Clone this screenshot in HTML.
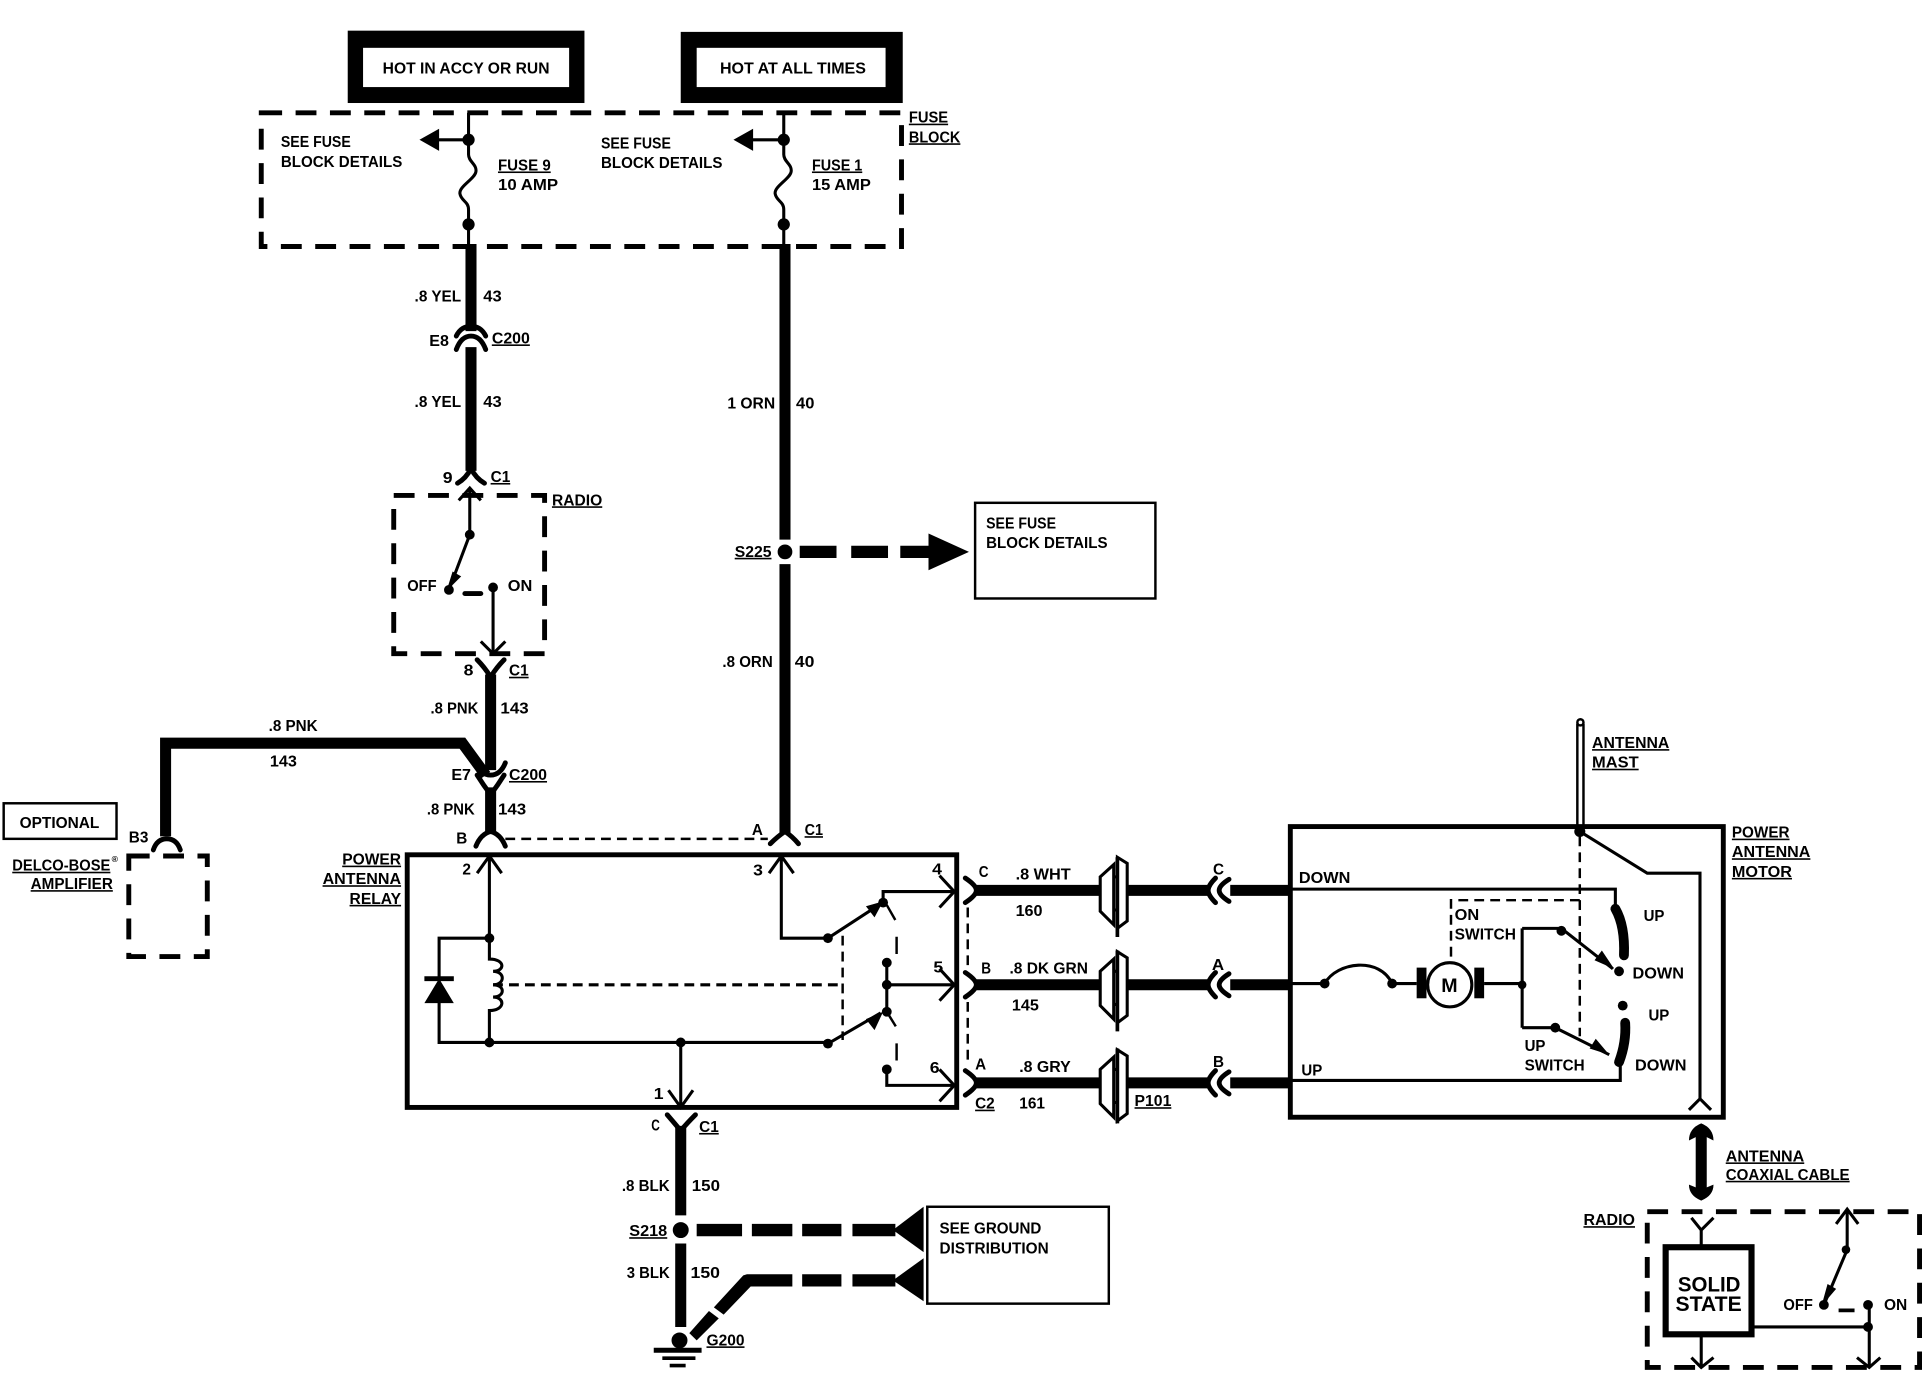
<!DOCTYPE html>
<html><head><meta charset="utf-8"><style>
html,body{margin:0;padding:0;background:#fff}
svg{display:block}
text{font-family:"Liberation Sans",sans-serif;font-weight:bold;font-size:13px;fill:#000;stroke:none}
.u{text-decoration:underline}
.w{fill:none;stroke:#000;stroke-width:2.5}
.t{fill:none;stroke:#000;stroke-width:9}
.n{fill:none;stroke:#000;stroke-width:4;stroke-linecap:round;stroke-linejoin:round}
.d{fill:none;stroke:#000;stroke-width:4;stroke-dasharray:17 11}
.f{fill:none;stroke:#000;stroke-width:2;stroke-dasharray:8 5}
circle{fill:#000}
</style></head><body>
<svg width="1922" height="1376" viewBox="0 0 1567 1122" preserveAspectRatio="none" xmlns="http://www.w3.org/2000/svg">
<rect width="1567" height="1122" fill="#fff"/>
<!-- top boxes -->
<rect x="283.500" y="25" width="193" height="59" fill="#000"/><rect x="296" y="39" width="168" height="32" fill="#fff"/>
<rect x="555" y="26" width="181" height="58" fill="#000"/><rect x="568" y="39" width="154" height="32" fill="#fff"/>
<text x="312" y="60" textLength="136" lengthAdjust="spacingAndGlyphs">HOT IN ACCY OR RUN</text>
<text x="587" y="60" textLength="119" lengthAdjust="spacingAndGlyphs">HOT AT ALL TIMES</text>
<!-- fuse block -->
<rect x="213" y="92" width="522" height="109" class="d"/>
<path class="w" d="M382 92V126C382 132 389 134 388 140C387 146 374 152 375 158C376 164 382 164 382 171V199"/>
<path class="w" d="M639 92V126C639 132 646 134 645 140C644 146 631 152 632 158C633 164 639 164 639 171V199"/>
<circle cx="382" cy="114" r="5"/><circle cx="382" cy="183" r="5"/>
<circle cx="639" cy="114" r="5"/><circle cx="639" cy="183" r="5"/>
<path class="w" d="M382 114H355M639 114H612"/>
<path d="M342 114L358 105V123Z M598 114L614 105V123Z"/>
<text x="229" y="120" textLength="57" lengthAdjust="spacingAndGlyphs">SEE FUSE</text>
<text x="229" y="136" textLength="99" lengthAdjust="spacingAndGlyphs">BLOCK DETAILS</text>
<text x="406" y="139" textLength="43" lengthAdjust="spacingAndGlyphs" class="u">FUSE 9</text>
<text x="406" y="155" textLength="49" lengthAdjust="spacingAndGlyphs">10 AMP</text>
<text x="490" y="121" textLength="57" lengthAdjust="spacingAndGlyphs">SEE FUSE</text>
<text x="490" y="137" textLength="99" lengthAdjust="spacingAndGlyphs">BLOCK DETAILS</text>
<text x="662" y="139" textLength="41" lengthAdjust="spacingAndGlyphs" class="u">FUSE 1</text>
<text x="662" y="155" textLength="48" lengthAdjust="spacingAndGlyphs">15 AMP</text>
<text x="741" y="100" textLength="32" lengthAdjust="spacingAndGlyphs" class="u">FUSE</text>
<text x="741" y="116" textLength="42" lengthAdjust="spacingAndGlyphs" class="u">BLOCK</text>
<!-- left top wire -->
<path class="t" d="M384 199V270M384 283V384"/>
<path class="n" d="M372 274Q376 266 384 266Q392 266 396 274M372 285Q376 274 384 274Q392 274 396 285"/>
<path class="n" d="M373 394Q380 390 384 382Q388 390 395 394"/>
<text x="338" y="246" textLength="38" lengthAdjust="spacingAndGlyphs">.8 YEL</text><text x="394" y="246" textLength="15" lengthAdjust="spacingAndGlyphs">43</text>
<text x="350" y="282" textLength="16" lengthAdjust="spacingAndGlyphs">E8</text><text x="401" y="280" textLength="31" lengthAdjust="spacingAndGlyphs" class="u">C200</text>
<text x="338" y="332" textLength="38" lengthAdjust="spacingAndGlyphs">.8 YEL</text><text x="394" y="332" textLength="15" lengthAdjust="spacingAndGlyphs">43</text>
<text x="361" y="394" textLength="8" lengthAdjust="spacingAndGlyphs">9</text><text x="400" y="393" textLength="16" lengthAdjust="spacingAndGlyphs" class="u">C1</text>
<!-- radio switch -->
<rect x="321" y="404" width="123" height="129" class="d"/>
<text x="450" y="412" textLength="41" lengthAdjust="spacingAndGlyphs" class="u">RADIO</text>
<path class="w" d="M383 398V436L366 481M374 408L383 398L392 408M402 479V533M392 523L402 533L412 523"/>
<path class="n" d="M379 484H392"/>
<path d="M364 482L369 466L376 470Z"/>
<circle cx="383" cy="436" r="4"/><circle cx="366" cy="481" r="4"/><circle cx="402" cy="479" r="4"/>
<text x="332" y="482" textLength="24" lengthAdjust="spacingAndGlyphs">OFF</text><text x="414" y="482" textLength="20" lengthAdjust="spacingAndGlyphs">ON</text>
<!-- pink wire -->
<path class="n" d="M389 538Q395 544 400 552Q405 544 411 538"/>
<text x="378" y="551" textLength="8" lengthAdjust="spacingAndGlyphs">8</text><text x="415" y="551" textLength="16" lengthAdjust="spacingAndGlyphs" class="u">C1</text>
<path class="t" d="M400 550V628M400 642V680"/>
<path class="t" d="M135 682V606H377L396 632"/>
<path class="n" d="M388 622Q392 632 400 632Q408 632 412 622M389 632Q394 640 400 648Q406 640 411 632"/>
<path class="n" d="M388 690Q392 680 400 678Q408 680 412 690"/>
<text x="351" y="582" textLength="39" lengthAdjust="spacingAndGlyphs">.8 PNK</text><text x="408" y="582" textLength="23" lengthAdjust="spacingAndGlyphs">143</text>
<text x="219" y="596" textLength="40" lengthAdjust="spacingAndGlyphs">.8 PNK</text><text x="220" y="625" textLength="22" lengthAdjust="spacingAndGlyphs">143</text>
<text x="368" y="636" textLength="16" lengthAdjust="spacingAndGlyphs">E7</text><text x="415" y="636" textLength="31" lengthAdjust="spacingAndGlyphs" class="u">C200</text>
<text x="348" y="664" textLength="39" lengthAdjust="spacingAndGlyphs">.8 PNK</text><text x="406" y="664" textLength="23" lengthAdjust="spacingAndGlyphs">143</text>
<text x="372" y="688" textLength="9" lengthAdjust="spacingAndGlyphs">B</text>
<!-- amp -->
<rect x="3" y="655" width="92" height="29" fill="#fff" stroke="#000" stroke-width="2"/>
<text x="16" y="675" textLength="65" lengthAdjust="spacingAndGlyphs">OPTIONAL</text>
<text x="105" y="687" textLength="16" lengthAdjust="spacingAndGlyphs">B3</text>
<path class="n" d="M125 693Q128 684 136 684Q144 684 147 693"/>
<rect x="105" y="698" width="64" height="82" class="d"/>
<text x="10" y="710" textLength="80" lengthAdjust="spacingAndGlyphs" class="u">DELCO-BOSE</text><text x="91" y="703" style="font-size:7px">®</text>
<text x="25" y="725" textLength="67" lengthAdjust="spacingAndGlyphs" class="u">AMPLIFIER</text>
<!-- center wire -->
<path class="t" d="M640 199V440M640 460V680"/>
<circle cx="640" cy="450" r="6"/>
<path d="M652 445H682V455H652ZM694 445H724V455H694ZM734 445H760V455H734Z"/>
<path d="M790 450L757 435V465Z"/>
<rect x="795" y="410" width="147" height="78" fill="none" stroke="#000" stroke-width="2"/>
<text x="804" y="431" textLength="57" lengthAdjust="spacingAndGlyphs">SEE FUSE</text>
<text x="804" y="447" textLength="99" lengthAdjust="spacingAndGlyphs">BLOCK DETAILS</text>
<text x="593" y="333" textLength="39" lengthAdjust="spacingAndGlyphs">1 ORN</text><text x="649" y="333" textLength="15" lengthAdjust="spacingAndGlyphs">40</text>
<text x="599" y="454" textLength="30" lengthAdjust="spacingAndGlyphs" class="u">S225</text>
<text x="589" y="544" textLength="41" lengthAdjust="spacingAndGlyphs">.8 ORN</text><text x="648" y="544" textLength="16" lengthAdjust="spacingAndGlyphs">40</text>
<path class="n" d="M628 688Q634 682 640 678Q646 682 651 688"/>
<path class="f" d="M412 684H626"/>
<text x="613" y="681" textLength="9" lengthAdjust="spacingAndGlyphs">A</text><text x="656" y="681" textLength="15" lengthAdjust="spacingAndGlyphs" class="u">C1</text>
<!-- relay -->
<rect x="332" y="697" width="448" height="206" fill="none" stroke="#000" stroke-width="4"/>
<text x="279" y="705" textLength="48" lengthAdjust="spacingAndGlyphs" class="u">POWER</text>
<text x="263" y="721" textLength="64" lengthAdjust="spacingAndGlyphs" class="u">ANTENNA</text>
<text x="285" y="737" textLength="42" lengthAdjust="spacingAndGlyphs" class="u">RELAY</text>
<path class="w" d="M399 697V782C412 782 412 792 402 792C412 792 412 803 402 803C412 803 412 813 402 813C412 813 412 824 399 824V850M389 712L399 698L409 712"/>
<path class="w" d="M399 765H358V850H675M555 850V903M545 889L555 903L565 889"/>
<path d="M346 796H370V800H346ZM358 798L346 818H370Z"/>
<path class="f" style="stroke-width:2.500" d="M402 803H687"/>
<path class="f" d="M687 763V848"/>
<path class="w" d="M637 697V765H675L718 737M627 712L637 698L647 712M720 736V727H778M766 714L778 727L766 740"/>
<path d="M720 735L706 739L713 748Z"/>
<path class="w" d="M675 851L718 826M723 785V825M723 803H778M766 790L778 803L766 816M723 872V885H778M766 872L778 885L766 898"/>
<path d="M720 825L706 831L713 840Z"/>
<path class="f" d="M723 738L731 752V785M723 825L731 838V872" style="stroke-dasharray:14 14"/>
<circle cx="399" cy="765" r="4"/><circle cx="399" cy="850" r="4"/><circle cx="555" cy="850" r="4"/>
<circle cx="675" cy="765" r="4"/><circle cx="675" cy="851" r="4"/><circle cx="720" cy="736" r="4"/><circle cx="723" cy="785" r="4"/><circle cx="723" cy="803" r="4"/><circle cx="723" cy="825" r="4"/><circle cx="723" cy="872" r="4"/>
<text x="377" y="713" textLength="7" lengthAdjust="spacingAndGlyphs">2</text>
<text x="614" y="714" textLength="8" lengthAdjust="spacingAndGlyphs">3</text>
<text x="760" y="713" textLength="8" lengthAdjust="spacingAndGlyphs">4</text>
<text x="761" y="793" textLength="8" lengthAdjust="spacingAndGlyphs">5</text>
<text x="758" y="875" textLength="8" lengthAdjust="spacingAndGlyphs">6</text>
<text x="533" y="896" textLength="8" lengthAdjust="spacingAndGlyphs">1</text>
<!-- ground -->
<path class="n" d="M544 909Q550 916 555 922Q560 916 567 909"/>
<path class="t" d="M555 918V991M555 1014V1082"/>
<circle cx="555" cy="1003" r="6.500"/><circle cx="554" cy="1093" r="6.500"/>
<path d="M533 1099H572V1103H533ZM540 1106H567V1109H540ZM546 1112H559V1115H546Z"/>
<path d="M568 998H605V1008H568ZM613 998H646V1008H613ZM654 998H686V1008H654ZM695 998H730V1008H695Z"/>
<path d="M728 1003L753 984V1021Z"/>
<path d="M609 1039H646V1049H612L590 1072L582 1066L606 1040ZM654 1039H686V1049H654ZM695 1039H730V1049H695Z"/>
<path d="M728 1044L753 1026V1061Z"/>
<path d="M578 1069L586 1075L568 1093L562 1087Z"/>
<rect x="756" y="984" width="148" height="79" fill="#fff" stroke="#000" stroke-width="2"/>
<text x="766" y="1006" textLength="83" lengthAdjust="spacingAndGlyphs">SEE GROUND</text>
<text x="766" y="1022" textLength="89" lengthAdjust="spacingAndGlyphs">DISTRIBUTION</text>
<text x="531" y="922" textLength="7" lengthAdjust="spacingAndGlyphs">C</text><text x="570" y="923" textLength="16" lengthAdjust="spacingAndGlyphs" class="u">C1</text>
<text x="507" y="971" textLength="39" lengthAdjust="spacingAndGlyphs">.8 BLK</text><text x="564" y="971" textLength="23" lengthAdjust="spacingAndGlyphs">150</text>
<text x="513" y="1008" textLength="31" lengthAdjust="spacingAndGlyphs" class="u">S218</text>
<text x="511" y="1042" textLength="35" lengthAdjust="spacingAndGlyphs">3 BLK</text><text x="563" y="1042" textLength="24" lengthAdjust="spacingAndGlyphs">150</text>
<text x="576" y="1097" textLength="31" lengthAdjust="spacingAndGlyphs" class="u">G200</text>
<!-- harness wires -->
<path class="t" d="M795 726H897M919 726H985M1003 726H1052M795 803H897M919 803H985M1003 803H1052M795 883H897M919 883H985M1003 883H1052"/>
<path class="n" d="M787 716Q796 722 796 726Q796 730 787 736M787 793Q796 799 796 803Q796 807 787 813M787 873Q796 879 796 883Q796 887 787 893"/>
<path class="f" d="M789 740V790M789 817V868"/>
<path class="n" d="M991 716Q985 722 985 726Q985 730 991 736M1002 717Q994 722 994 726Q994 730 1002 735M991 793Q985 799 985 803Q985 807 991 813M1002 794Q994 799 994 803Q994 807 1002 812M991 873Q985 879 985 883Q985 887 991 893M1002 874Q994 879 994 883Q994 887 1002 892"/>
<g fill="#fff" stroke="#000" stroke-width="2.5">
<path d="M897 715L908 705V754L897 743Z"/><path d="M911 699L919 704V751L911 757Z"/><path d="M908 715H911M908 742H911"/>
<path d="M897 792L908 782V831L897 820Z"/><path d="M911 776L919 781V828L911 834Z"/><path d="M908 792H911M908 819H911"/>
<path d="M897 872L908 862V911L897 900Z"/><path d="M911 856L919 861V908L911 914Z"/><path d="M908 872H911M908 899H911"/>
</g>
<path class="w" style="stroke-width:3" d="M911 699V764M911 775V841M911 855V916"/>
<text x="798" y="715" textLength="8" lengthAdjust="spacingAndGlyphs">C</text><text x="828" y="717" textLength="45" lengthAdjust="spacingAndGlyphs">.8 WHT</text><text x="828" y="747" textLength="22" lengthAdjust="spacingAndGlyphs">160</text>
<text x="800" y="794" textLength="8" lengthAdjust="spacingAndGlyphs">B</text><text x="823" y="794" textLength="64" lengthAdjust="spacingAndGlyphs">.8 DK GRN</text><text x="825" y="824" textLength="22" lengthAdjust="spacingAndGlyphs">145</text>
<text x="795" y="872" textLength="9" lengthAdjust="spacingAndGlyphs">A</text><text x="831" y="874" textLength="42" lengthAdjust="spacingAndGlyphs">.8 GRY</text><text x="831" y="904" textLength="21" lengthAdjust="spacingAndGlyphs">161</text>
<text x="795" y="904" textLength="16" lengthAdjust="spacingAndGlyphs" class="u">C2</text><text x="925" y="902" textLength="30" lengthAdjust="spacingAndGlyphs" class="u">P101</text>
<text x="989" y="713" textLength="9" lengthAdjust="spacingAndGlyphs">C</text><text x="988" y="791" textLength="10" lengthAdjust="spacingAndGlyphs">A</text><text x="989" y="870" textLength="9" lengthAdjust="spacingAndGlyphs">B</text>
<!-- motor -->
<rect x="1052" y="674" width="353" height="237" fill="none" stroke="#000" stroke-width="4"/>
<path class="w" d="M1286 590V676M1291 590V676" style="stroke-width:2"/>
<circle cx="1288.500" cy="589" r="2.500" style="fill:#fff;stroke:#000;stroke-width:2"/>
<circle cx="1288" cy="678" r="4.500"/>
<path class="w" d="M1288 678L1343 712H1386V896M1377 905L1386 896L1395 905"/>
<path class="f" d="M1288 682V845M1288 734H1183V782"/>
<path class="w" d="M1052 725H1317V742M1052 802H1080C1090 784 1125 780 1135 802H1155M1210 802H1241M1241 757V838M1241 757H1273L1315 790M1241 838H1268L1312 860M1321 866V881H1052"/>
<path d="M1316 790L1300 783L1306 775ZM1312 860L1296 855L1301 847Z"/>
<path d="M1317 741Q1325 755 1324 779" fill="none" stroke="#000" stroke-width="8" stroke-linecap="round"/>
<path d="M1325 834Q1326 850 1320 866" fill="none" stroke="#000" stroke-width="8" stroke-linecap="round"/>
<circle cx="1080" cy="802" r="4"/><circle cx="1135" cy="802" r="4"/><circle cx="1241" cy="803" r="3.500"/>
<circle cx="1273" cy="759" r="4"/><circle cx="1268" cy="838" r="4"/><circle cx="1320" cy="792" r="4"/><circle cx="1323" cy="820" r="4"/>
<ellipse cx="1182" cy="803" rx="18" ry="18" fill="#fff" stroke="#000" stroke-width="2.5"/>
<rect x="1155" y="789" width="8" height="25"/><rect x="1202" y="789" width="8" height="25"/>
<text x="1175" y="809" style="font-size:16px">M</text>
<text x="1059" y="720" textLength="42" lengthAdjust="spacingAndGlyphs">DOWN</text><text x="1061" y="877" textLength="17" lengthAdjust="spacingAndGlyphs">UP</text>
<text x="1186" y="750" textLength="20" lengthAdjust="spacingAndGlyphs">ON</text><text x="1186" y="766" textLength="50" lengthAdjust="spacingAndGlyphs">SWITCH</text>
<text x="1243" y="857" textLength="17" lengthAdjust="spacingAndGlyphs">UP</text><text x="1243" y="873" textLength="49" lengthAdjust="spacingAndGlyphs">SWITCH</text>
<text x="1340" y="751" textLength="17" lengthAdjust="spacingAndGlyphs">UP</text><text x="1331" y="798" textLength="42" lengthAdjust="spacingAndGlyphs">DOWN</text>
<text x="1344" y="832" textLength="17" lengthAdjust="spacingAndGlyphs">UP</text><text x="1333" y="873" textLength="42" lengthAdjust="spacingAndGlyphs">DOWN</text>
<text x="1298" y="610" textLength="63" lengthAdjust="spacingAndGlyphs" class="u">ANTENNA</text><text x="1298" y="626" textLength="38" lengthAdjust="spacingAndGlyphs" class="u">MAST</text>
<text x="1412" y="683" textLength="47" lengthAdjust="spacingAndGlyphs" class="u">POWER</text><text x="1412" y="699" textLength="64" lengthAdjust="spacingAndGlyphs" class="u">ANTENNA</text><text x="1412" y="715" textLength="49" lengthAdjust="spacingAndGlyphs" class="u">MOTOR</text>
<!-- coax -->
<path class="t" d="M1387 922V974"/>
<path d="M1387 916Q1397 920 1397 930L1387 925L1377 930Q1377 920 1387 916ZM1387 979Q1397 975 1397 966L1387 970L1377 966Q1377 975 1387 979Z"/>
<text x="1407" y="947" textLength="64" lengthAdjust="spacingAndGlyphs" class="u">ANTENNA</text><text x="1407" y="962" textLength="101" lengthAdjust="spacingAndGlyphs" class="u">COAXIAL CABLE</text>
<!-- radio 2 -->
<rect x="1343" y="988" width="222" height="127" class="d"/>
<text x="1291" y="999" textLength="42" lengthAdjust="spacingAndGlyphs" class="u">RADIO</text>
<path class="w" d="M1379 993L1387 1003L1397 993M1387 1003V1015M1387 1088V1115M1379 1107L1387 1115L1397 1107M1429 1082H1524M1524 1064V1115M1514 1107L1524 1115L1533 1107M1506 986V1019L1487 1064M1497 998L1506 986L1515 998"/>
<path d="M1485 1065L1490 1047L1497 1051Z M1499 1067H1512V1070H1499Z"/>
<circle cx="1505" cy="1019" r="3.500"/><circle cx="1487" cy="1064" r="4"/><circle cx="1523" cy="1064" r="4"/><circle cx="1523" cy="1082" r="4"/>
<rect x="1358" y="1017" width="70" height="71" fill="#fff" stroke="#000" stroke-width="5"/>
<text x="1368" y="1053" textLength="51" lengthAdjust="spacingAndGlyphs" style="font-size:17px">SOLID</text>
<text x="1366" y="1069" textLength="54" lengthAdjust="spacingAndGlyphs" style="font-size:17px">STATE</text>
<text x="1454" y="1068" textLength="24" lengthAdjust="spacingAndGlyphs">OFF</text><text x="1536" y="1068" textLength="19" lengthAdjust="spacingAndGlyphs">ON</text>
</svg>
</body></html>
